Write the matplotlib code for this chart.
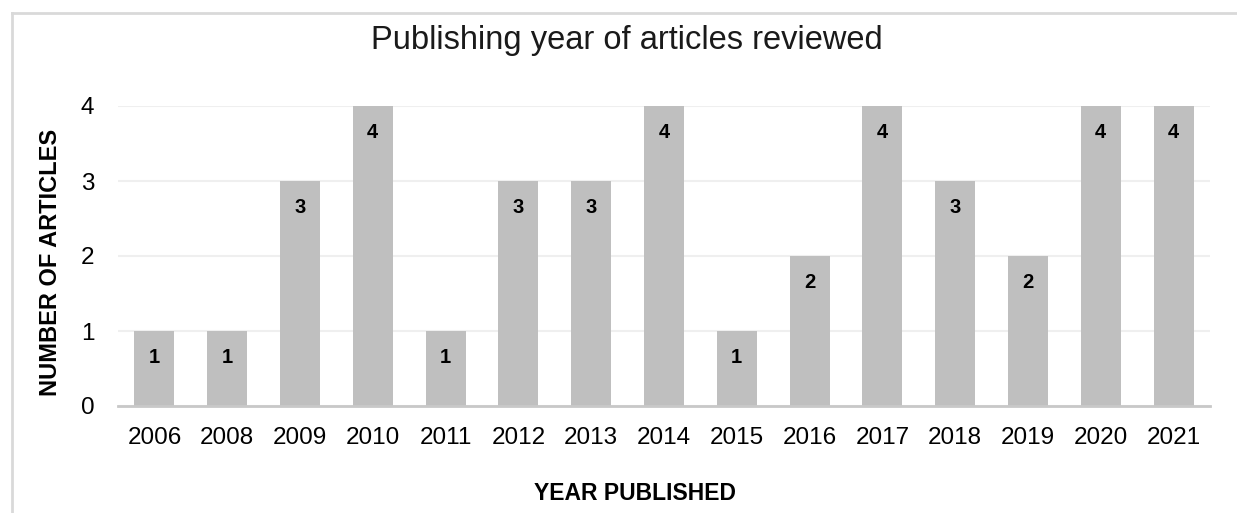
import matplotlib
matplotlib.use("Agg")
import matplotlib.pyplot as plt
from matplotlib.lines import Line2D

years = ["2006", "2008", "2009", "2010", "2011", "2012", "2013", "2014",
         "2015", "2016", "2017", "2018", "2019", "2020", "2021"]
counts = [1, 1, 3, 4, 1, 3, 3, 4, 1, 2, 4, 3, 2, 4, 4]

plt.rcParams['font.family'] = ['Liberation Sans', 'DejaVu Sans']

W, H = 1237, 513
fig = plt.figure(figsize=(W / 100, H / 100), dpi=100)
ax = fig.add_axes([118 / W, 1 - 406 / H, (1210 - 118) / W, 300 / H])

x = list(range(len(years)))
bars = ax.bar(x, counts, width=0.55, color="#bfbfbf", zorder=2)
for b, c in zip(bars, counts):
    ax.text(b.get_x() + b.get_width() / 2, c - 0.35, str(c), ha="center", va="center",
            fontsize=14.5, fontweight="bold", color="black", zorder=3)

ax.set_xlim(-0.5, len(years) - 0.5)
ax.set_ylim(0, 4)
ax.set_yticks([0, 1, 2, 3, 4])
ax.set_xticks(x)
ax.set_xticklabels(years)
ax.tick_params(axis="both", length=0, labelsize=17.5, colors="black")
ax.tick_params(axis="x", pad=15)
ax.tick_params(axis="y", pad=17)
ax.grid(axis="y", color="#efefef", linewidth=1.5, zorder=0)
for s in ["top", "right", "left"]:
    ax.spines[s].set_visible(False)
ax.spines["bottom"].set_color("#c8c8c8")
ax.spines["bottom"].set_linewidth(2)
ax.spines["bottom"].set_zorder(4)

fig.text(627 / W, 1 - 41 / H, "Publishing year of articles reviewed", ha="center", va="center",
         fontsize=23.5, color="#1a1a1a")
fig.text(635 / W, 1 - 493 / H, "YEAR PUBLISHED", ha="center", va="center",
         fontsize=16.5, fontweight="bold")
fig.text(51 / W, 1 - 262 / H, "NUMBER OF ARTICLES", ha="center", va="center",
         rotation=90, fontsize=17, fontweight="bold")

# chart area border
fig.add_artist(Line2D([12 / W, 12 / W], [0, 1 - 13 / H], transform=fig.transFigure,
                      color="#d9d9d9", linewidth=2))
fig.add_artist(Line2D([12 / W, 1], [1 - 13 / H, 1 - 13 / H], transform=fig.transFigure,
                      color="#d9d9d9", linewidth=2))

fig.savefig("out.png", dpi=100)
